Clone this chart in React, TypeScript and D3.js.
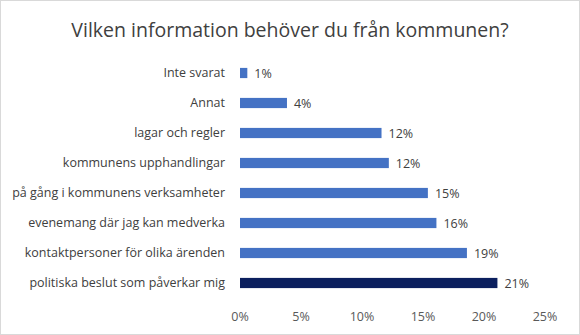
import React from "react";
import * as d3 from "d3";

const categories = [
  "Inte svarat",
  "Annat",
  "lagar och regler",
  "kommunens upphandlingar ",
  "på gång i kommunens verksamheter",
  "evenemang där jag kan medverka",
  "kontaktpersoner för olika ärenden",
  "politiska beslut som påverkar mig",
];
const values = [0.6, 3.85, 11.6, 12.2, 15.4, 16.1, 18.6, 21.1];
const valueLabels = ["1%", "4%", "12%", "12%", "15%", "16%", "19%", "21%"];
const highlight = [false, false, false, false, false, false, false, true];
const ticks = [0, 5, 10, 15, 20, 25];

const W = 580;
const H = 335;
const FONT = "'Open Sans', 'Noto Sans', sans-serif";

export default function App() {
  const x = d3.scaleLinear().domain([0, 25]).range([240, 545]);
  const y = d3
    .scaleBand()
    .domain(categories)
    .range([58, 298])
    .paddingInner(0.66)
    .paddingOuter(0.33);
  const bh = y.bandwidth();
  return (
    <div style={{ position: "fixed", left: 0, top: 0 }}>
      <svg width={W} height={H} style={{ display: "block", background: "#fff" }}>
        <rect x={0.5} y={0.5} width={W - 1} height={H - 1} fill="#fff" stroke="#d9d9d9" />
        <text x={290} y={37} textAnchor="middle" fontFamily={FONT} fontSize={19.5} fill="#404040">
          Vilken information behöver du från kommunen?
        </text>
        {categories.map((c, i) => {
          const yc = (y(c) as number) + bh / 2;
          return (
            <g key={c}>
              <text x={225} y={yc} dy="0.35em" textAnchor="end" fontFamily={FONT} fontSize={12.5} fill="#404040">
                {c}
              </text>
              <rect
                x={x(0)}
                y={y(c) as number}
                width={x(values[i]) - x(0)}
                height={bh}
                fill={highlight[i] ? "#0b1f5e" : "#4472c4"}
              />
              <text x={x(values[i]) + 7} y={yc} dy="0.4em" fontFamily={FONT} fontSize={12.5} fill="#404040">
                {valueLabels[i]}
              </text>
            </g>
          );
        })}
        {ticks.map((t) => (
          <text key={t} x={x(t)} y={317} dy="0.35em" textAnchor="middle" fontFamily={FONT} fontSize={12.5} fill="#595959">
            {t + "%"}
          </text>
        ))}
      </svg>
    </div>
  );
}
